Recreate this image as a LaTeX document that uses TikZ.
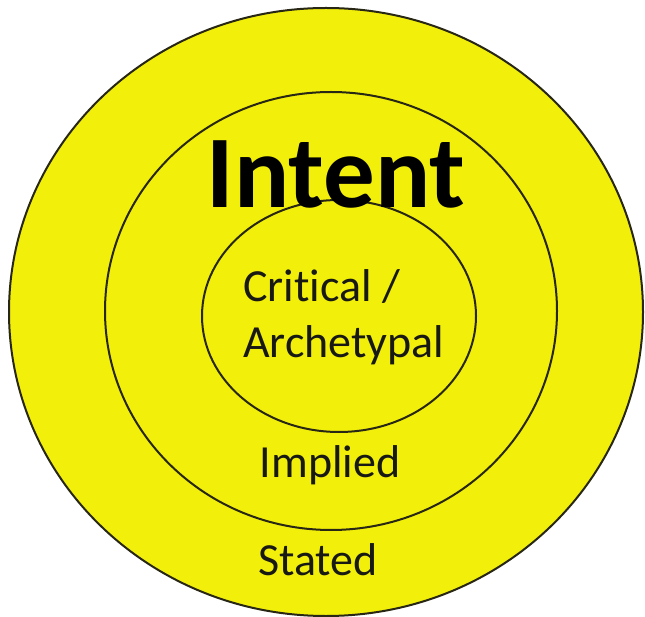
\documentclass[tikz,border=0pt]{standalone}
\usepackage{fontspec}
\setmainfont[Ligatures=NoCommon]{Carlito}
\usepackage{tikz}

\definecolor{ringyellow}{RGB}{242,240,10}
\definecolor{ringline}{RGB}{40,38,20}
\definecolor{inktext}{RGB}{25,25,20}

\begin{document}
\begin{tikzpicture}[x=1pt, y=-1pt,
    ring/.style={fill=ringyellow, draw=ringline, line width=2pt},
    ringtext/.style={inner sep=0pt, text=inktext, font=\fontsize{46}{56}\selectfont}]
      \useasboundingbox (0,0) rectangle (645,617);
      % three rings, outside in
      \draw [ring] (326,312) ellipse [x radius=317, y radius=304];
      \draw [ring] (331,311) ellipse [x radius=226, y radius=219];
      \draw [ring] (339,316) ellipse [x radius=137, y radius=116];
      \node (intent) [ringtext, anchor=base, font=\fontsize{103}{110}\selectfont\bfseries, text=black]
        at (336,208) {Intent};
      \node (critical) [ringtext, anchor=base west] at (243,302) {Critical /};
      \node (archetypal) [ringtext, anchor=base west] at (243,358) {Archetypal};
      \node (implied) [ringtext, anchor=base] at (330,477) {Implied};
      \node (stated) [ringtext, anchor=base] at (318,575) {Stated};
    \end{tikzpicture}
\end{document}
